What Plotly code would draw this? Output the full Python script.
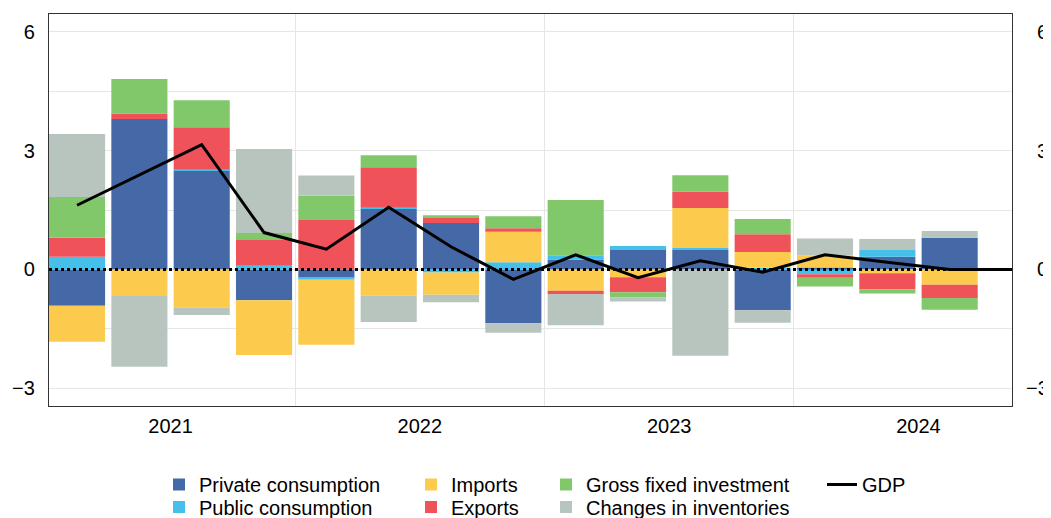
import plotly.graph_objects as go

# ---------------- data ----------------
quarters = ["2021Q1", "2021Q2", "2021Q3", "2021Q4",
            "2022Q1", "2022Q2", "2022Q3", "2022Q4",
            "2023Q1", "2023Q2", "2023Q3", "2023Q4",
            "2024Q1", "2024Q2", "2024Q3", "2024Q4"]
years = ["2021", "2022", "2023", "2024"]

private_consumption = [-0.92, 3.80, 2.49, -0.78, -0.21, 1.53, 1.17, -1.36,
                       0.25, 0.49, 0.49, -1.03, 0.05, 0.32, 0.80, None]
public_consumption = [0.32, 0.00, 0.04, 0.09, -0.05, 0.04, -0.08, 0.18,
                      0.11, 0.10, 0.06, 0.04, -0.12, 0.17, 0.00, None]
imports = [-0.91, -0.67, -0.97, -1.38, -1.64, -0.66, -0.56, 0.77,
           -0.54, -0.20, 1.00, 0.40, 0.30, -0.10, -0.39, None]
exports = [0.48, 0.14, 1.06, 0.65, 1.25, 1.01, 0.15, 0.09,
           -0.08, -0.38, 0.42, 0.45, -0.09, -0.41, -0.33, None]
gross_fixed_investment = [1.03, 0.87, 0.68, 0.18, 0.61, 0.30, 0.05, 0.30,
                          1.39, -0.13, 0.41, 0.38, -0.22, -0.10, -0.30, None]
changes_in_inventories = [1.59, -1.79, -0.18, 2.12, 0.51, -0.67, -0.19, -0.24,
                          -0.79, -0.10, -2.18, -0.32, 0.43, 0.28, 0.17, None]
gdp = [1.62, 2.38, 3.15, 0.93, 0.51, 1.57, 0.57, -0.25,
       0.37, -0.21, 0.22, -0.07, 0.37, 0.18, 0.00, 0.00]

y_tick_values = [-3, 0, 3, 6]

# ---------------- styling ----------------
FONT = "Liberation Sans, Arial, Helvetica, sans-serif"
PAGE_OFFSET = 8            # default body margin of the html page
WIN_W, WIN_H = 1051, 518
W, H = WIN_W - PAGE_OFFSET, WIN_H - PAGE_OFFSET
PLOT_L, PLOT_T, PLOT_W, PLOT_H = 49, 14, 963, 392   # in window pixels
ML = PLOT_L - PAGE_OFFSET
MT = PLOT_T - PAGE_OFFSET
MR = W - ML - PLOT_W
MB = H - MT - PLOT_H

pos = list(range(len(quarters)))
year_centers = [sum(pos[i * 4:(i + 1) * 4]) / 4 for i in range(len(years))]
year_bounds = [(pos[i * 4 + 3] + pos[i * 4 + 4]) / 2 for i in range(len(years) - 1)]

series = [
    ("Private consumption", private_consumption, "#4469a6", "legend"),
    ("Public consumption", public_consumption, "#44c0ea", "legend2"),
    ("Imports", imports, "#fcca4d", "legend3"),
    ("Exports", exports, "#f05259", "legend4"),
    ("Gross fixed investment", gross_fixed_investment, "#80c86a", "legend5"),
    ("Changes in inventories", changes_in_inventories, "#b8c5be", "legend6"),
]

fig = go.Figure()
for name, vals, color, leg in series:
    fig.add_trace(go.Bar(
        x=pos, y=vals, name=name, marker=dict(color=color, line=dict(width=0)),
        legend=leg,
    ))

fig.add_trace(go.Scatter(
    x=pos, y=gdp, name="GDP", mode="lines",
    line=dict(color="black", width=3), legend="legend7", yaxis="y2",
))

# zero reference line (dotted)
fig.add_shape(type="line", xref="paper", x0=0, x1=1, yref="y", y0=0, y1=0,
              line=dict(color="black", width=3, dash="dot"), layer="above")

yrange = [-3.45, 6.45]
grid_color = "#e6e6e6"


def win_to_paper_x(px):
    return (px - PLOT_L) / PLOT_W


def win_to_paper_y(py):
    return (PLOT_T + PLOT_H - py) / PLOT_H


legend_font = dict(family=FONT, size=20, color="black")
col_text_px = [199, 451, 586, 862]
row_px = [484.5, 507.0]
legend_specs = {
    "legend": (0, 0), "legend2": (0, 1),
    "legend3": (1, 0), "legend4": (1, 1),
    "legend5": (2, 0), "legend6": (2, 1),
    "legend7": (3, 0),
}
legend_layout = {}
for key, (c, r) in legend_specs.items():
    legend_layout[key] = dict(
        x=win_to_paper_x(col_text_px[c] - 40), xanchor="left",
        y=win_to_paper_y(row_px[r]), yanchor="middle",
        orientation="v", font=legend_font, bgcolor="rgba(0,0,0,0)",
        borderwidth=0, itemclick=False, itemdoubleclick=False,
    )

fig.update_layout(
    width=W, height=H,
    margin=dict(l=ML, r=MR, t=MT, b=MB, pad=0, autoexpand=False),
    paper_bgcolor="white", plot_bgcolor="white",
    barmode="relative", bargap=0.1,
    font=dict(family=FONT, size=20, color="black"),
    showlegend=True,
    xaxis=dict(
        range=[-0.45, len(quarters) - 1], automargin=False,
        tickmode="array", tickvals=year_centers, ticktext=years,
        showgrid=False, zeroline=False,
        showline=True, mirror=True, linecolor="#333333", linewidth=1.3,
        ticks="", ticklabelstandoff=2,
        tickfont=dict(family=FONT, size=20, color="black"),
        minor=dict(tickmode="array", tickvals=year_bounds, showgrid=True,
                   gridcolor=grid_color, gridwidth=1.3, ticks=""),
    ),
    yaxis=dict(
        range=yrange, automargin=False, tickmode="array", tickvals=y_tick_values,
        showgrid=True, gridcolor=grid_color, gridwidth=1.3, zeroline=False,
        showline=True, mirror=True, linecolor="#333333", linewidth=1.3,
        ticks="", ticklabelstandoff=9,
        tickfont=dict(family=FONT, size=20, color="black"),
        minor=dict(dtick=1.5, tick0=0, showgrid=True, gridcolor=grid_color,
                   gridwidth=1.3, ticks=""),
    ),
    yaxis2=dict(
        range=yrange, automargin=False, overlaying="y", side="right",
        tickmode="array", tickvals=y_tick_values,
        ticktext=["\u22123", "\u20070", "\u20073", "\u20076"],
        showgrid=False, zeroline=False, showline=False,
        ticks="", ticklabelstandoff=13,
        tickfont=dict(family=FONT, size=20, color="black"),
    ),
    **legend_layout,
)

fig.write_html("out.html")
